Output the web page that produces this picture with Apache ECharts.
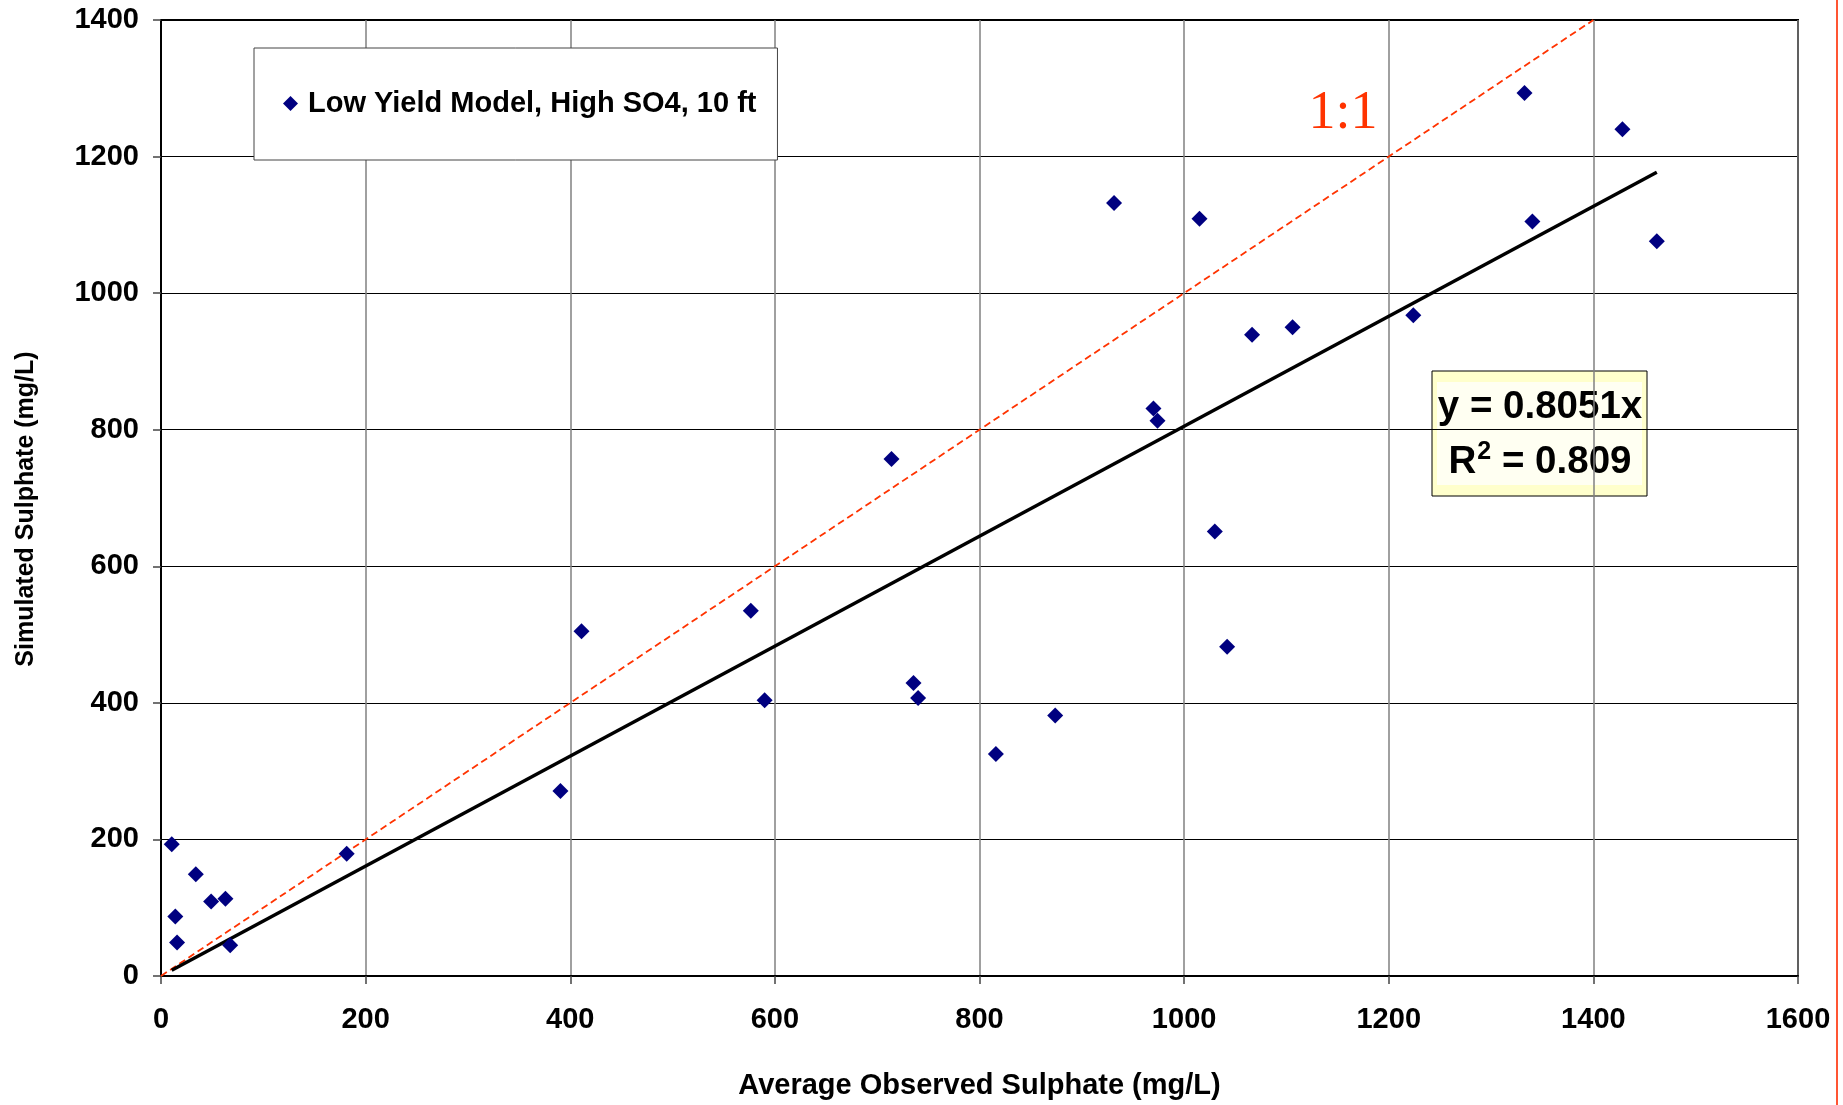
<!DOCTYPE html>
<html>
<head>
    <meta charset="utf-8">
    <title>Sulphate scatter</title>
    <script src="https://cdn.jsdelivr.net/npm/echarts@6/dist/echarts.min.js"></script>
    <style type="text/css">
        * {
            margin: 0;
            padding: 0;
        }
        body {
            background: #fff;
        }
    </style>
</head>
<body>
<div id="main" style="width: 1843px; height: 1105px;"></div>
<script type="text/javascript">
    // observed (x) vs simulated (y) sulphate, mg/L
    var obsX = [10.5, 14, 15.7, 34, 49, 63, 67.6, 181.5, 390.4, 411,
                576.5, 590, 714, 735.5, 740, 816, 874, 931.5, 970, 974,
                1015, 1030, 1042, 1066.4, 1106, 1224, 1332.7, 1340.4, 1428.4, 1462];
    var simY = [193, 87, 49, 149, 109, 113, 45, 179, 271, 505,
                535, 404, 757, 429, 407, 325, 381.5, 1132, 831, 813,
                1109, 651, 482, 939, 950, 967.5, 1293, 1105, 1240, 1076];

    var seriesName = 'Low Yield Model, High SO4, 10 ft';
    var slope = 0.8051;
    var r2 = 0.809;
    var oneToOne = [0, 1400];

    var xTicks = [0, 200, 400, 600, 800, 1000, 1200, 1400, 1600];
    var yTicks = [0, 200, 400, 600, 800, 1000, 1200, 1400];

    var fontSans = '"Liberation Sans", Arial, sans-serif';

    var points = obsX.map(function (x, i) { return [x, simY[i]]; });
    var minX = Math.min.apply(null, obsX);
    var maxX = Math.max.apply(null, obsX);
    var trend = [[minX, slope * minX], [maxX, slope * maxX]];

    var myChart = echarts.init(document.getElementById('main'));

    function boldText(size) {
        return {
            fontFamily: fontSans,
            fontWeight: 'bold',
            fontSize: size,
            color: '#000'
        };
    }

    // plain numbers, no thousands separator
    function plain(v) { return String(v); }

    var option = {
        animation: false,
        grid: {
            left: 161,
            right: 45,
            top: 20,
            bottom: 128,
            show: true,
            borderColor: '#000',
            borderWidth: 2
        },
        legend: {
            data: [seriesName],
            left: 254,
            top: 48,
            orient: 'vertical',
            padding: [41, 21, 42, 29],
            backgroundColor: '#fff',
            borderColor: '#444',
            borderWidth: 1,
            itemWidth: 15,
            itemHeight: 15,
            itemGap: 6,
            textStyle: Object.assign({ padding: [0, 0, 0, 5] }, boldText(29))
        },
        xAxis: {
            type: 'value',
            min: xTicks[0],
            max: xTicks[xTicks.length - 1],
            interval: 200,
            name: 'Average Observed Sulphate (mg/L)',
            nameLocation: 'middle',
            nameGap: 95,
            nameTextStyle: boldText(29),
            axisLine: { lineStyle: { color: '#000', width: 2 } },
            axisTick: { show: true, length: 8, lineStyle: { color: '#444', width: 1.5 } },
            axisLabel: Object.assign({ margin: 29, formatter: plain }, boldText(29)),
            splitLine: { show: true, lineStyle: { color: '#808080', width: 1.5 } }
        },
        yAxis: {
            type: 'value',
            min: yTicks[0],
            max: yTicks[yTicks.length - 1],
            interval: 200,
            name: 'Simulated Sulphate (mg/L)',
            nameLocation: 'middle',
            nameGap: 122,
            nameTextStyle: Object.assign({ padding: [0, 22, 0, 0] }, boldText(25)),
            axisLine: { lineStyle: { color: '#000', width: 2 } },
            axisTick: { show: true, length: 8, lineStyle: { color: '#444', width: 1.5 } },
            axisLabel: Object.assign({ margin: 22, formatter: plain }, boldText(29)),
            splitLine: { show: true, lineStyle: { color: '#000', width: 1 } }
        },
        series: [
            {
                name: '1:1',
                type: 'line',
                data: [[oneToOne[0], oneToOne[0]], [oneToOne[1], oneToOne[1]]],
                showSymbol: false,
                silent: true,
                lineStyle: { color: '#FF3300', width: 1.8, type: [7, 4] },
                z: 3
            },
            {
                name: 'trend',
                type: 'line',
                data: trend,
                showSymbol: false,
                silent: true,
                lineStyle: { color: '#000', width: 3.5 },
                z: 3
            },
            {
                name: seriesName,
                type: 'scatter',
                symbol: 'diamond',
                symbolSize: 16,
                itemStyle: { color: '#000080', opacity: 1 },
                data: points,
                z: 4
            }
        ],
        graphic: [
            {
                type: 'text',
                x: 1343,
                y: 114,
                z: 10,
                style: {
                    text: '1:1',
                    fill: '#FF3300',
                    font: '54px "Liberation Serif", "Times New Roman", serif',
                    align: 'center',
                    verticalAlign: 'middle'
                }
            },
            {
                type: 'group',
                z: 10,
                children: [
                    {
                        type: 'rect',
                        shape: { x: 1432, y: 371, width: 215, height: 125 },
                        style: { fill: '#FFFFCC', stroke: '#000', lineWidth: 1 }
                    },
                    {
                        type: 'rect',
                        shape: { x: 1437, y: 382, width: 205, height: 103 },
                        style: { fill: '#FFFFF2' }
                    },
                    {
                        type: 'text',
                        x: 1540,
                        y: 407,
                        style: {
                            text: 'y = ' + slope + 'x',
                            fill: '#000',
                            fontFamily: fontSans,
                            fontWeight: 'bold',
                            fontSize: 38.5,
                            align: 'center',
                            verticalAlign: 'middle'
                        }
                    },
                    {
                        type: 'text',
                        x: 1540,
                        y: 462,
                        style: {
                            text: '{a|R}{s|2}{a| = ' + r2 + '}',
                            align: 'center',
                            verticalAlign: 'middle',
                            rich: {
                                a: { fontFamily: fontSans, fontWeight: 'bold', fontSize: 38.5, fill: '#000', lineHeight: 44 },
                                s: { fontFamily: fontSans, fontWeight: 'bold', fontSize: 25, fill: '#000', lineHeight: 22, verticalAlign: 'top', padding: [0, 0, 0, 1] }
                            }
                        }
                    }
                ]
            },
            {
                type: 'line',
                z: 10,
                shape: { x1: 1837, y1: 0, x2: 1837, y2: 1105 },
                style: { stroke: '#FF5533', lineWidth: 2 }
            }
        ]
    };

    myChart.setOption(option);

    window.addEventListener('resize', function () {
        myChart.resize();
    });
</script>
</body>
</html>
